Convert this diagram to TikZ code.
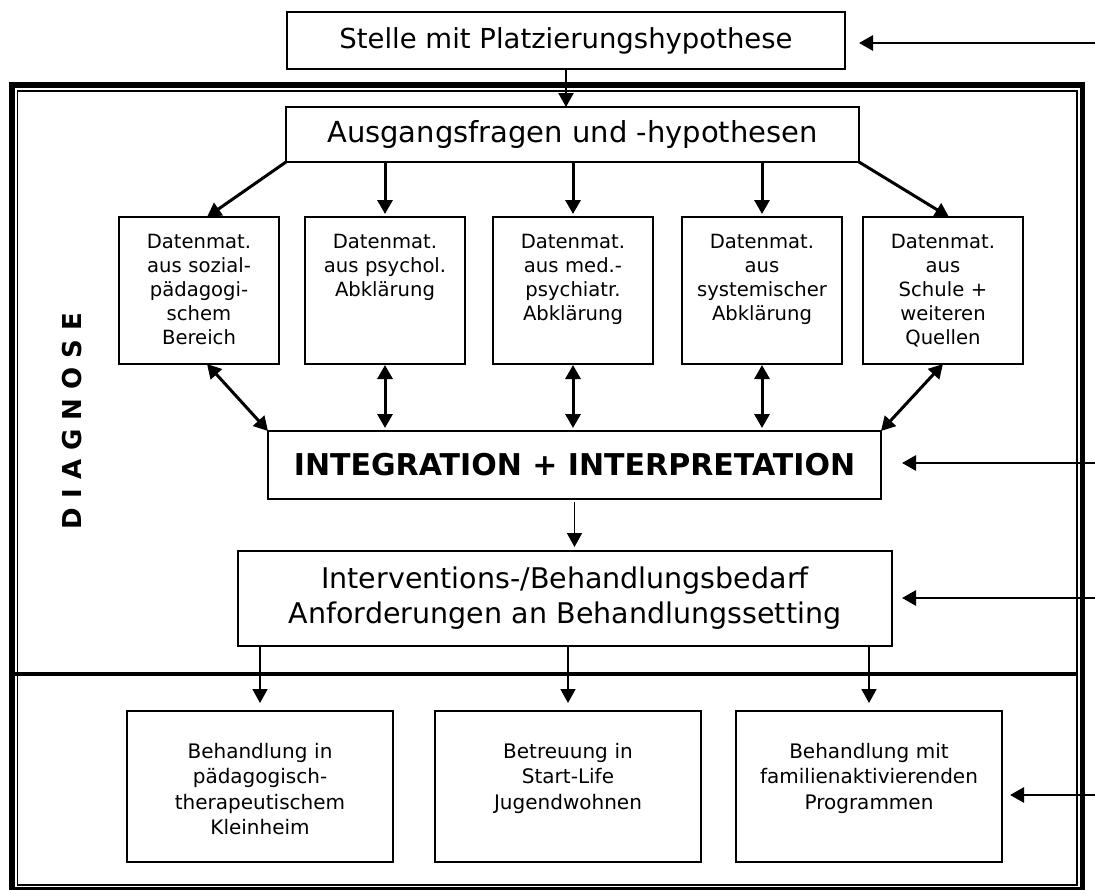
\documentclass[tikz,border=0pt]{standalone}
\usepackage{fontspec}
\setmainfont{DejaVu Sans}
\usetikzlibrary{arrows.meta,positioning}

\begin{document}
\begin{tikzpicture}[x=1pt,y=-1pt,>={Triangle[length=14pt,width=15pt]},
                    every node/.style={align=center,inner sep=0pt,outer sep=0pt}]
  \tikzstyle{box}=[draw,line width=2pt]
  \tikzstyle{datbox}=[box,text width=160pt,text height=31pt,text depth=116pt,font=\fontsize{19.6}{24}\selectfont]
  \tikzstyle{carebox}=[box,text width=266pt,text height=47pt,text depth=104pt,font=\fontsize{20}{25.5}\selectfont]
  \tikzstyle{arr}=[->,line width=3pt]
  \tikzstyle{dblarr}=[<->,line width=3pt]
  \tikzstyle{thinarr}=[->,line width=1.8pt]
  \tikzstyle{inarr}=[->,line width=2.8pt]

  \useasboundingbox (0,0) rectangle (1095,889);

  \draw[line width=5.5pt] (12,85) rectangle (1082.5,889.5);
  \draw[line width=1.2pt] (17.5,91) rectangle (1077,885);
  \draw[line width=4.5pt] (12,674) -- (1077,674);

  \node[box,minimum width=558pt,minimum height=57pt,font=\fontsize{27.5}{33}\selectfont] (stelle) at (566,40.5) {Stelle mit Platzierungshypothese};
  \node[box,minimum width=573pt,minimum height=55pt,font=\fontsize{29}{35}\selectfont] (ausg) at (572.5,134.5) {Ausgangsfragen und -hypothesen};

  \node[datbox] (d1) at (199,290.5) {Datenmat.\\aus sozial-\\pädagogi-\\schem\\Bereich};
  \node[datbox,right=26pt of d1] (d2) {Datenmat.\\aus psychol.\\Abklärung};
  \node[datbox,right=28pt of d2] (d3) {Datenmat.\\aus med.-\\psychiatr.\\Abklärung};
  \node[datbox,right=29pt of d3] (d4) {Datenmat.\\aus\\systemischer\\Abklärung};
  \node[datbox,right=21pt of d4] (d5) {Datenmat.\\aus\\Schule +\\weiteren\\Quellen};

  \node[box,minimum width=613pt,minimum height=68pt,font=\fontsize{30}{36}\selectfont\bfseries] (integ) at (574.5,465) {INTEGRATION + INTERPRETATION};
  \node[box,text width=654pt,minimum height=95pt,font=\fontsize{28.5}{35}\selectfont] (interv) at (565,598.5) {Interventions-/Behandlungsbedarf\\Anforderungen an Behandlungssetting};

  \node[carebox] (la) at (260,786.5) {Behandlung in\\pädagogisch-\\therapeutischem\\Kleinheim};
  \node[carebox,right=42pt of la] (lb) {Betreuung in\\Start-Life\\Jugendwohnen};
  \node[carebox,right=35pt of lb] (lc) {Behandlung mit\\familienaktivierenden\\Programmen};

  \node[rotate=90,font=\fontsize{26}{26}\selectfont\bfseries] (diag) at (72,421) {D I A G N O S E};

  \draw[arr,line width=2.5pt] (stelle.south) -- (stelle.south |- ausg.north);
  \draw[arr] (ausg.south west) -- ([xshift=8pt]d1.north);
  \foreach \d in {d2,d3,d4}
    \draw[arr,shorten >=3pt] (\d.north |- ausg.south) -- (\d.north);
  \draw[arr] (ausg.south east) -- ([xshift=6pt]d5.north);

  \draw[dblarr] ([xshift=8pt]d1.south) -- (integ.north west);
  \foreach \d in {d2,d3,d4}
    \draw[dblarr,shorten >=3pt,shorten <=1pt] (\d.south) -- (\d.south |- integ.north);
  \draw[dblarr] (d5.south) -- (integ.north east);

  \draw[thinarr,shorten <=3pt,shorten >=4pt] (integ.south) -- (integ.south |- interv.north);
  \foreach \l in {la,lb,lc}
    \draw[thinarr,shorten >=8pt] (\l.north |- interv.south) -- (\l.north);

  \coordinate (r1) at (1100,43);
  \coordinate (r2) at (1100,463);
  \coordinate (r3) at (1100,598);
  \coordinate (r4) at (1100,795);
  \draw[inarr,shorten >=14pt] (r1) -- (r1 -| stelle.east);
  \draw[inarr,shorten >=21pt] (r2) -- (r2 -| integ.east);
  \draw[inarr,shorten >=10pt] (r3) -- (r3 -| interv.east);
  \draw[inarr,shorten >=8pt] (r4) -- (r4 -| lc.east);
\end{tikzpicture}
\end{document}
